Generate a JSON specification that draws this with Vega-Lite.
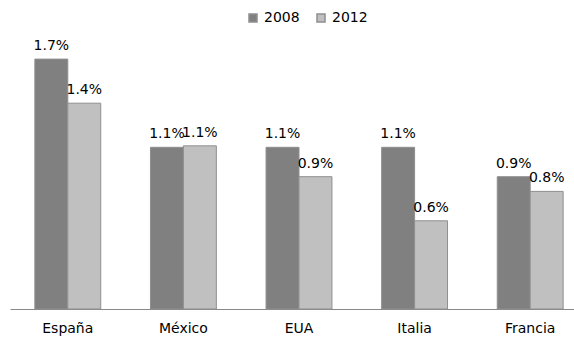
{
  "$schema": "https://vega.github.io/schema/vega-lite/v6.json",
  "autosize": {"type": "none"},
  "padding": {"left": 10, "top": 15, "right": 0, "bottom": 28},
  "width": 578,
  "height": 294,
  "background": "white",
  "data": {"values": [
    {"pais": "España", "anio": "2008", "valor": 0.017},
    {"pais": "España", "anio": "2012", "valor": 0.014},
    {"pais": "México", "anio": "2008", "valor": 0.011},
    {"pais": "México", "anio": "2012", "valor": 0.0111},
    {"pais": "EUA", "anio": "2008", "valor": 0.011},
    {"pais": "EUA", "anio": "2012", "valor": 0.009},
    {"pais": "Italia", "anio": "2008", "valor": 0.011},
    {"pais": "Italia", "anio": "2012", "valor": 0.006},
    {"pais": "Francia", "anio": "2008", "valor": 0.009},
    {"pais": "Francia", "anio": "2012", "valor": 0.008}
  ]},
  "config": {
    "font": "DejaVu Sans",
    "view": {"stroke": null}
  },
  "encoding": {
    "x": {
      "field": "pais", "type": "nominal", "sort": null,
      "scale": {"paddingInner": 0.43, "paddingOuter": 0.215},
      "axis": {"title": null, "labelAngle": 0, "ticks": false, "domainColor": "#888888", "labelFontSize": 14, "labelColor": "#000000", "labelPadding": 12, "labelFont": "DejaVu Sans"}
    },
    "xOffset": {"field": "anio", "type": "nominal"},
    "y": {"field": "valor", "type": "quantitative", "scale": {"domain": [0, 0.02]}, "axis": null}
  },
  "layer": [
    {
      "mark": {"type": "bar", "stroke": "#8f8f8f", "strokeWidth": 1},
      "encoding": {
        "color": {
          "field": "anio", "type": "nominal",
          "scale": {"domain": ["2008", "2012"], "range": ["#808080", "#c0c0c0"]},
          "legend": {"title": null, "orient": "none", "legendX": 236, "legendY": -4, "direction": "horizontal", "symbolType": "square", "symbolSize": 64, "labelFontSize": 14, "labelFont": "DejaVu Sans", "symbolStrokeColor": "#8f8f8f", "columnPadding": 14, "labelOffset": 4}
        }
      }
    },
    {
      "mark": {"type": "text", "baseline": "bottom", "dy": -6, "fontSize": 14, "color": "#000000"},
      "encoding": {
        "text": {"field": "valor", "type": "quantitative", "format": ".1%"}
      }
    }
  ]
}
